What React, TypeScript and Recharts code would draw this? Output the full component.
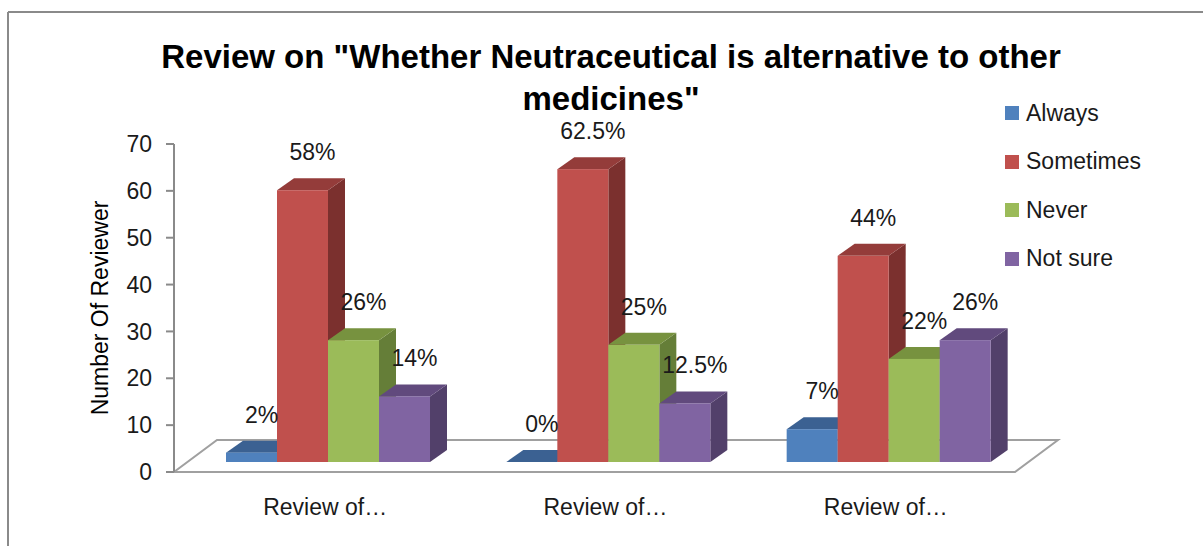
import React from 'react';
import { BarChart, Bar, XAxis, YAxis, Legend, LabelList } from 'recharts';

// values
const categories = ['Review of…', 'Review of…', 'Review of…'];
const always = [2, 0, 7];
const sometimes = [58, 62.5, 44];
const never = [26, 25, 22];
const notSure = [14, 12.5, 26];
const yTicks = [0, 10, 20, 30, 40, 50, 60, 70];
const titleLines = ['Review on "Whether Neutraceutical is alternative to other', 'medicines"'];

const data = categories.map((name, i) => ({
  id: i,
  name,
  always: always[i],
  sometimes: sometimes[i],
  never: never[i],
  notSure: notSure[i],
}));

// layout
const W = 1203;
const H = 546;
const PLOT_LEFT = 174;
const PLOT_TOP = 144;
const PLOT_RIGHT = 1015;
const PLOT_BOTTOM = 472;
const YAXIS_W = 90;
const XAXIS_H = 40;
const FLOOR_DX = 43;
const FLOOR_DY = 32;
const BAR_DX = 14; // bars sit part way into the floor
const BAR_DY = 10;
const DEPTH_X = 17;
const DEPTH_Y = 12;
const FONT = "'Liberation Sans', Arial, sans-serif";

const palette: Record<string, { front: string; top: string; side: string }> = {
  always: { front: '#4F81BD', top: '#3B6192', side: '#2F4F78' },
  sometimes: { front: '#C0504D', top: '#943C3A', side: '#7B302E' },
  never: { front: '#9BBB59', top: '#77923F', side: '#657E38' },
  notSure: { front: '#8064A2', top: '#614A7D', side: '#52406A' },
};

const series = [
  { key: 'always', name: 'Always' },
  { key: 'sometimes', name: 'Sometimes' },
  { key: 'never', name: 'Never' },
  { key: 'notSure', name: 'Not sure' },
];
const seriesOrder = series.map((s) => s.name);

const make3D = (c: { front: string; top: string; side: string }) => (props: any) => {
  const { x, y, width, height } = props;
  const h = Math.max(height || 0, 0);
  const fx = x + BAR_DX;
  const fy = y - BAR_DY;
  const side = `${fx + width},${fy} ${fx + width + DEPTH_X},${fy - DEPTH_Y} ${fx + width + DEPTH_X},${fy + h - DEPTH_Y} ${fx + width},${fy + h}`;
  const top = `${fx},${fy} ${fx + DEPTH_X},${fy - DEPTH_Y} ${fx + width + DEPTH_X},${fy - DEPTH_Y} ${fx + width},${fy}`;
  return (
    <g>
      <polygon points={side} fill={c.side} />
      <polygon points={top} fill={c.top} />
      <rect x={fx} y={fy} width={width} height={h} fill={c.front} />
    </g>
  );
};

const renderValue = (props: any) => {
  const { x, y, width, value } = props;
  return (
    <text
      x={x + width / 2 + BAR_DX + 10}
      y={y - BAR_DY - 30}
      textAnchor="middle"
      fontSize={23}
      fill="#1a1a1a"
    >
      {value}%
    </text>
  );
};

const CategoryTick = (props: any) => {
  const { x, y, payload } = props;
  return (
    <text x={x + 11} y={y} dy="0.71em" textAnchor="middle" fontSize={23} fill="#1a1a1a">
      {categories[payload.value]}
    </text>
  );
};

const renderLegend = (props: any) => {
  // keep the series order, the legend sorts by name otherwise
  const payload = [...(props.payload || [])].sort(
    (a: any, b: any) => seriesOrder.indexOf(a.value) - seriesOrder.indexOf(b.value)
  );
  return (
    <div>
      {payload.map((p: any) => (
        <div key={p.value} style={{ height: 48.5, display: 'flex', alignItems: 'center' }}>
          <span style={{ width: 14, height: 14, background: p.color, marginRight: 7, display: 'inline-block' }} />
          <span style={{ fontSize: 23, color: '#1a1a1a', fontFamily: FONT }}>{p.value}</span>
        </div>
      ))}
    </div>
  );
};

const App: React.FC = () => {
  const floor = `${PLOT_LEFT},${PLOT_BOTTOM} ${PLOT_RIGHT},${PLOT_BOTTOM} ${PLOT_RIGHT + FLOOR_DX},${PLOT_BOTTOM - FLOOR_DY} ${PLOT_LEFT + FLOOR_DX},${PLOT_BOTTOM - FLOOR_DY}`;

  return (
    <div style={{ position: 'absolute', left: 0, top: 0, width: W, height: H, overflow: 'hidden', background: '#fff', fontFamily: FONT }}>
      {/* frame, title and floor behind the chart */}
      <svg width={W} height={H} style={{ position: 'absolute', left: 0, top: 0 }}>
        <line x1={8} y1={12} x2={8} y2={H} stroke="#8a8a8a" strokeWidth={2} />
        <line x1={8} y1={12} x2={W} y2={12} stroke="#8a8a8a" strokeWidth={2} />
        <text x={611} y={68} textAnchor="middle" fontSize={33} fontWeight="bold" fill="#000">{titleLines[0]}</text>
        <text x={611} y={110} textAnchor="middle" fontSize={33} fontWeight="bold" fill="#000">{titleLines[1]}</text>
        <polygon points={floor} fill="#fff" stroke="#a0a0a0" strokeWidth={2} />
      </svg>

      <div style={{ position: 'absolute', left: 0, top: 0 }}>
        <BarChart
          width={W}
          height={H}
          data={data}
          margin={{ top: PLOT_TOP, right: W - PLOT_RIGHT, bottom: H - PLOT_BOTTOM - XAXIS_H, left: PLOT_LEFT - YAXIS_W }}
          barCategoryGap={38}
          barGap={0}
        >
          <XAxis
            dataKey="id"
            type="category"
            axisLine={false}
            tickLine={false}
            tickSize={0}
            tickMargin={27}
            height={XAXIS_H}
            tick={<CategoryTick />}
            interval={0}
          />
          <YAxis
            type="number"
            domain={[0, 70]}
            ticks={yTicks}
            width={YAXIS_W}
            axisLine={{ stroke: '#8a8a8a', strokeWidth: 2 }}
            tickLine={{ stroke: '#8a8a8a', strokeWidth: 2 }}
            tickSize={8}
            tickMargin={14}
            tick={{ fontSize: 23, fill: '#1a1a1a' }}
            label={{
              value: 'Number Of Reviewer',
              angle: -90,
              position: 'insideLeft',
              offset: 16,
              style: { textAnchor: 'middle', fontSize: 23, fill: '#000' },
            }}
          />
          <Legend
            layout="horizontal"
            verticalAlign="middle"
            align="center"
            width={190}
            wrapperStyle={{ left: 1005, top: 89, width: 190, height: 200 }}
            content={renderLegend}
          />
          {series.map((s) => (
            <Bar
              key={s.key}
              dataKey={s.key}
              name={s.name}
              fill={palette[s.key].front}
              shape={make3D(palette[s.key])}
              isAnimationActive={false}
            >
              <LabelList dataKey={s.key} content={renderValue} />
            </Bar>
          ))}
        </BarChart>
      </div>
    </div>
  );
};

export default App;
